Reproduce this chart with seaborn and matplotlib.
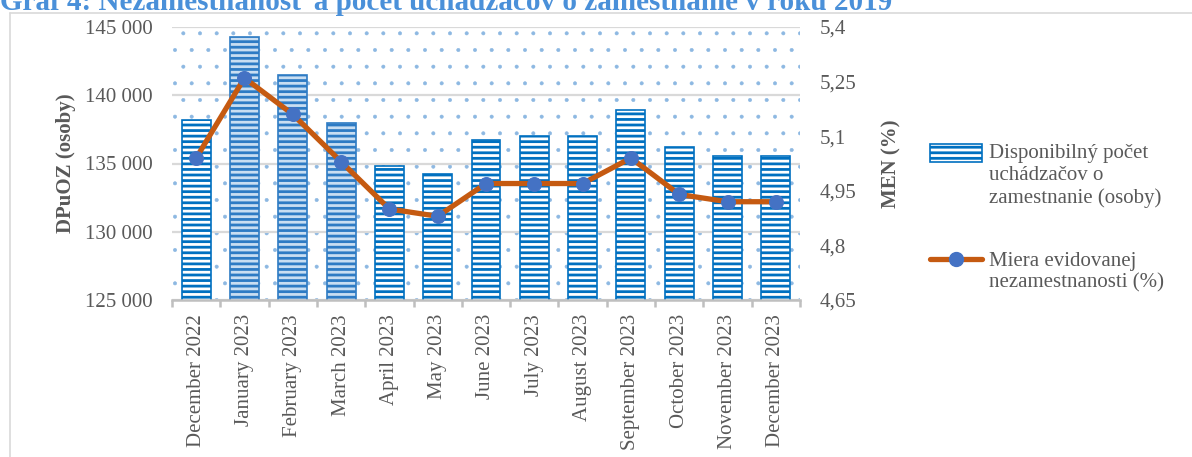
import numpy as np
import pandas as pd
import matplotlib
matplotlib.use("Agg")
import matplotlib.pyplot as plt
import matplotlib.ticker as mtick
from matplotlib.patches import Rectangle
from matplotlib.lines import Line2D
from matplotlib.offsetbox import HPacker
import seaborn as sns

# ── Data ─────────────────────────────────────────────────────
months = [
    "December 2022", "January 2023", "February 2023", "March 2023",
    "April 2023", "May 2023", "June 2023", "July 2023", "August 2023",
    "September 2023", "October 2023", "November 2023", "December 2023",
]
dpuoz = [138200, 144300, 141500, 138000, 134800, 134200, 136700,
         137000, 137050, 138900, 136200, 135550, 135550]
men = [5.04, 5.26, 5.16, 5.03, 4.90, 4.88, 4.97, 4.97, 4.97, 5.04,
       4.94, 4.92, 4.92]
light_months = ["January 2023", "February 2023", "March 2023"]

left_ticks = [125000, 130000, 135000, 140000, 145000]
right_ticks = [4.65, 4.8, 4.95, 5.1, 5.25, 5.4]

title = "Graf 4: Nezamestnanosť a počet uchádzačov o zamestnanie v roku 2019"
bar_label = "Disponibilný počet\nuchádzačov o\nzamestnanie (osoby)"
line_label = "Miera evidovanej\nnezamestnanosti (%)"

df = pd.DataFrame({"month": months, "dpuoz": dpuoz, "men": men})
df["pos"] = np.arange(len(df))

# ── Style ────────────────────────────────────────────────────
sns.set_style("white")
plt.rcParams["font.family"] = ["Liberation Serif", "DejaVu Serif"]
TXT = "#595959"
BLUE = "#0070C0"
ORANGE = "#C55A11"
DOT = "#4472C4"
GRID = "#D9D9D9"


def hatch_lw(patch, lw):
    if hasattr(patch, "set_hatch_linewidth"):
        patch.set_hatch_linewidth(lw)


fig = plt.figure(figsize=(11.92, 4.57), dpi=100)
W, H = 1192, 457
ax = fig.add_axes([172 / W, 1 - 300 / H, 628 / W, 273 / H])

# dotted plot-area background
plt.rcParams["hatch.linewidth"] = 0.4
bg = Rectangle((0, 0), 1, 1, transform=ax.transAxes, fill=False,
               hatch=".", edgecolor="#8DB8E2", lw=0, zorder=0)
hatch_lw(bg, 0.4)
ax.add_patch(bg)

plt.rcParams["hatch.linewidth"] = 2.0
sns.barplot(data=df, x="month", y="dpuoz", ax=ax, width=0.6,
            color="white", saturation=1, zorder=2)
bars = [p for p in ax.patches if p is not bg]
for p, m in zip(bars, months):
    if m in light_months:
        p.set_facecolor("#C9DEF2")
        p.set_edgecolor("#2E7BC4")
    else:
        p.set_facecolor("white")
        p.set_edgecolor(BLUE)
    p.set_hatch("---")
    hatch_lw(p, 2.0)
    p.set_linewidth(1.2)

ax.set_ylim(125000, 145000)
ax.set_xlim(-0.5, len(months) - 0.5)
ax.yaxis.set_major_locator(mtick.FixedLocator(left_ticks))
ax.yaxis.set_major_formatter(
    mtick.FuncFormatter(lambda v, _: f"{int(v):,}".replace(",", " ")))
ax.grid(axis="y", color=GRID, lw=1.6)
ax.grid(axis="x", visible=False)
ax.set_axisbelow(True)
for s in ["left", "right", "top"]:
    ax.spines[s].set_visible(False)
ax.spines["bottom"].set_color("#BFBFBF")
ax.spines["bottom"].set_linewidth(1.8)
ax.spines["bottom"].set_zorder(3)

ax.set_xticks(df["pos"])
ax.set_xticklabels(months, rotation=90)
ax.xaxis.set_minor_locator(mtick.FixedLocator(np.arange(len(months) + 1) - 0.5))
ax.tick_params(axis="x", which="major", length=0, pad=10, labelsize=15,
               labelcolor=TXT)
ax.tick_params(axis="x", which="minor", length=5, width=1.8,
               color="#BFBFBF", direction="out", bottom=True)
ax.tick_params(axis="y", length=0, pad=14, labelsize=15, labelcolor=TXT)
ax.set_xlabel("")
ax.set_ylabel("DPuOZ (osoby)", fontsize=15, fontweight="bold", color=TXT)
ax.yaxis.set_label_coords((76 - 172) / 628, 0.5)

# ── Line on secondary axis ───────────────────────────────────
ax2 = ax.twinx()
sns.lineplot(data=df, x="pos", y="men", ax=ax2, color=ORANGE, lw=3.8,
             marker="o", markersize=10, markerfacecolor=DOT,
             markeredgecolor=DOT, zorder=4)
ax2.set_ylim(4.65, 5.4)
ax2.yaxis.set_major_locator(mtick.FixedLocator(right_ticks))
ax2.yaxis.set_major_formatter(
    mtick.FuncFormatter(lambda v, _: f"{v:g}".replace(".", ",")))
for s in ["left", "right", "top", "bottom"]:
    ax2.spines[s].set_visible(False)
ax2.tick_params(axis="y", length=0, pad=14, labelsize=15, labelcolor=TXT)
ax2.set_xlabel("")
ax2.set_ylabel("MEN (%)", fontsize=15, fontweight="bold", color=TXT)
ax2.yaxis.set_label_coords((881 - 172) / 628, 0.5)
ax2.grid(False)

# ── Legend ───────────────────────────────────────────────────
h_bar = Rectangle((0, 0), 1, 1, facecolor="white", edgecolor=BLUE,
                  hatch="---", lw=1.2)
hatch_lw(h_bar, 2.0)
h_line = Line2D([], [], color=ORANGE, lw=3.8, marker="o", markersize=10,
                markerfacecolor=DOT, markeredgecolor=DOT)
leg = fig.legend([h_bar, h_line], [bar_label, line_label],
                 loc="upper left", bbox_to_anchor=(922 / W, 1 - 136 / H),
                 frameon=False, fontsize=15, labelcolor=TXT,
                 handlelength=2.5, handleheight=0.9, handletextpad=0.3,
                 labelspacing=2.1, borderaxespad=0)
# put each handle next to the first line of its label
for box in leg.findobj(lambda o: isinstance(o, HPacker)):
    box.align = "top"

# ── Title and chart border ───────────────────────────────────
fig.text(0.0, 1 - 10 / H, title, va="baseline", ha="left", fontsize=21,
         fontweight="bold", color="#4A90D9")
fig.add_artist(Line2D([10 / W, 10 / W], [0, 1 - 13 / H],
                      transform=fig.transFigure, color=GRID, lw=1.2))
fig.add_artist(Line2D([10 / W, 1], [1 - 13 / H, 1 - 13 / H],
                      transform=fig.transFigure, color=GRID, lw=1.2))

fig.savefig("out.png", dpi=100)
